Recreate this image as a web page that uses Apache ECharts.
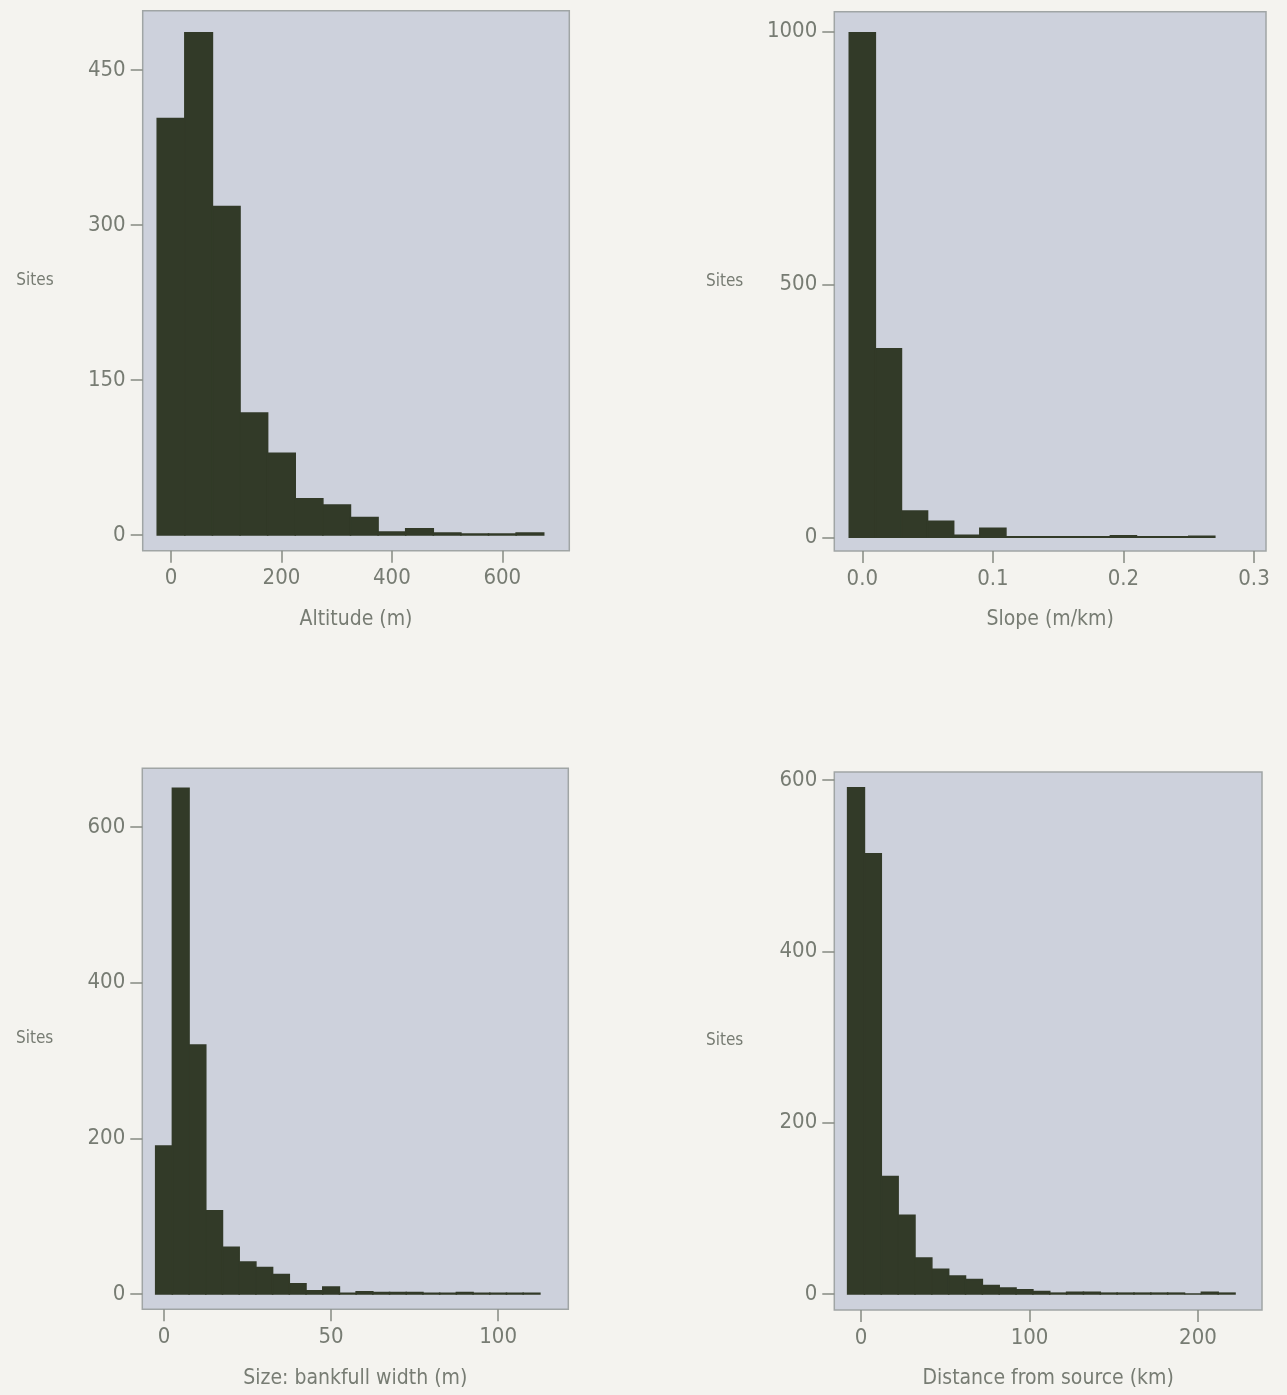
<!DOCTYPE html>
<html>
<head>
<meta charset="utf-8">
<script src="https://cdn.jsdelivr.net/npm/echarts@6/dist/echarts.min.js"></script>
<style>
html,body{margin:0;padding:0;background:#f4f3ef;}
#chart{width:1287px;height:1395px;}
</style>
</head>
<body>
<div id="chart"></div>
<script>
// ---------- data ----------
// Altitude (m): bins of width 50 starting at -25
const altBinStart = -25, altBinWidth = 50;
const altCounts = [403, 486, 318, 118, 79, 35, 29, 17, 3, 6, 2, 1, 1, 2];
const altTicks = [0, 200, 400, 600];
const altYTicks = [0, 150, 300, 450];

// Slope (m/km): bins of width 0.02 starting at -0.01
const slopeBinStart = -0.01, slopeBinWidth = 0.02;
const slopeCounts = [998, 373, 52, 32, 4, 18, 1, 1, 1, 1, 3, 1, 1, 2];
const slopeTicks = [0, 0.1, 0.2, 0.3];
const slopeYTicks = [0, 500, 1000];

// Size: bankfull width (m): bins of width 5 starting at -2.5
const sizeBinStart = -2.5, sizeBinWidth = 5;
const sizeCounts = [190, 650, 320, 107, 60, 41, 34, 25, 13, 4, 9, 1, 3, 2, 2, 2, 1, 1, 2, 1, 1, 1, 1];
const sizeTicks = [0, 50, 100];
const sizeYTicks = [0, 200, 400, 600];

// Distance from source (km): bins of width 10 starting at -8
const distBinStart = -8, distBinWidth = 10;
const distCounts = [591, 514, 137, 92, 42, 29, 21, 17, 10, 7, 5, 3, 1, 2, 2, 1, 1, 1, 1, 1, 0, 2, 1];
const distTicks = [0, 100, 200];
const distYTicks = [0, 200, 400, 600];

const xTitles = ['Altitude (m)', 'Slope (m/km)', 'Size: bankfull width (m)', 'Distance from source (km)'];
const yTitle = 'Sites';

// ---------- styling / layout ----------
const FONT = '"Liberation Sans Narrow", "DejaVu Sans Condensed", "Roboto Condensed", sans-serif';
const TXT = '#777c73';
const BAR = '#323a28';
const PLOTBG = '#cdd1dc';
const FRAME = '#a0a5a5';
const TICK = '#858a83';

const layouts = [
  {left:142.7, top:10.7, width:426.6, height:540, xmin:-51.3, xmax:721.3, ymin:-15.2, ymax:507.4, nameGap:89, fmt:v=>String(v)},
  {left:834.3, top:11.7, width:431.7, height:539.3, xmin:-0.02145, xmax:0.3092, ymin:-27, ymax:1039.6, nameGap:91, fmt:v=>v.toFixed(1)},
  {left:142.3, top:768.3, width:426, height:541, xmin:-6.5, xmax:121, ymin:-19.7, ymax:675.5, nameGap:89, fmt:v=>String(v)},
  {left:834.3, top:772, width:427.7, height:538, xmin:-15.9, xmax:238, ymin:-18.7, ymax:609.3, nameGap:91, fmt:v=>String(v)}
];

const panels = [
  {start:altBinStart, w:altBinWidth, counts:altCounts, xt:altTicks, yt:altYTicks},
  {start:slopeBinStart, w:slopeBinWidth, counts:slopeCounts, xt:slopeTicks, yt:slopeYTicks},
  {start:sizeBinStart, w:sizeBinWidth, counts:sizeCounts, xt:sizeTicks, yt:sizeYTicks},
  {start:distBinStart, w:distBinWidth, counts:distCounts, xt:distTicks, yt:distYTicks}
];

function renderItem(params, api) {
  const p0 = api.coord([api.value(0), api.value(2)]);
  const p1 = api.coord([api.value(1), 0]);
  return {
    type: 'rect',
    shape: {x: p0[0], y: p0[1], width: p1[0] - p0[0], height: p1[1] - p0[1]},
    style: {fill: BAR, stroke: BAR, lineWidth: 1.5}
  };
}

const grids = [], xAxes = [], yAxes = [], series = [];
panels.forEach((p, i) => {
  const L = layouts[i];
  grids.push({left:L.left, top:L.top, width:L.width, height:L.height, show:true,
    backgroundColor:PLOTBG, borderColor:FRAME, borderWidth:1.5, containLabel:false});
  xAxes.push({
    type:'value', gridIndex:i, min:L.xmin, max:L.xmax, position:'bottom',
    name:xTitles[i], nameLocation:'middle', nameGap:69,
    nameTextStyle:{fontFamily:FONT, fontSize:21, color:TXT, verticalAlign:'middle'},
    axisLine:{show:false, onZero:false}, splitLine:{show:false},
    axisTick:{show:true, inside:false, length:12, customValues:p.xt, lineStyle:{color:TICK, width:1.5}},
    axisLabel:{show:true, customValues:p.xt, margin:17, fontFamily:FONT, fontSize:22, color:TXT, formatter:L.fmt}
  });
  yAxes.push({
    type:'value', gridIndex:i, min:L.ymin, max:L.ymax, position:'left',
    name:yTitle, nameLocation:'middle', nameRotate:0, nameGap:L.nameGap,
    nameTextStyle:{fontFamily:FONT, fontSize:17, color:TXT, align:'right', verticalAlign:'middle'},
    axisLine:{show:false, onZero:false}, splitLine:{show:false},
    axisTick:{show:true, inside:false, length:12, customValues:p.yt, lineStyle:{color:TICK, width:1.5}},
    axisLabel:{show:true, customValues:p.yt, margin:17, fontFamily:FONT, fontSize:22, color:TXT, formatter:v=>String(v)}
  });
  const data = p.counts.map((c, k) => [p.start + k * p.w, p.start + (k + 1) * p.w, c]);
  series.push({
    type:'custom', xAxisIndex:i, yAxisIndex:i, renderItem:renderItem,
    encode:{x:[0, 1], y:2}, data:data, silent:true, clip:true
  });
});

const chart = echarts.init(document.getElementById('chart'), null, {renderer:'canvas'});
chart.setOption({
  backgroundColor:'#f4f3ef',
  animation:false,
  grid:grids, xAxis:xAxes, yAxis:yAxes, series:series
});
</script>
</body>
</html>
